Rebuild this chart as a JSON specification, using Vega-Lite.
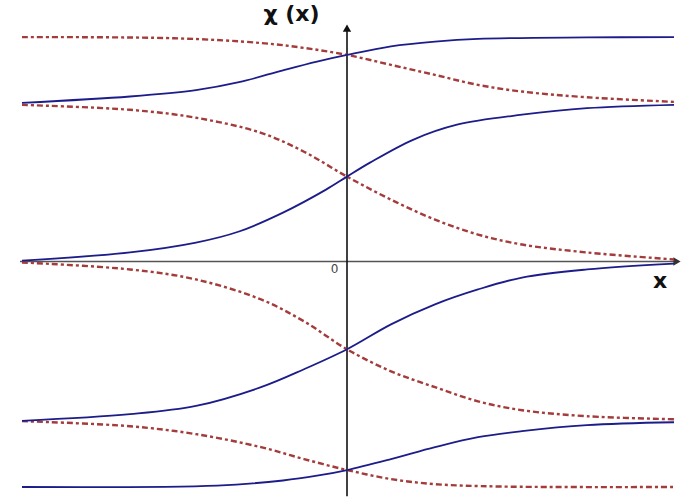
{
  "$schema": "https://vega.github.io/schema/vega-lite/v6.json",
  "autosize": {"type": "fit", "contains": "padding"},
  "width": 682,
  "height": 498,
  "padding": 0,
  "background": "white",
  "config": {"view": {"stroke": null}},
  "datasets": {
    "curves": [
      {"curve": "k1", "kind": "kink", "x": -3.25, "y": 1.0},
      {"curve": "k1", "kind": "kink", "x": -2.17, "y": 1.04},
      {"curve": "k1", "kind": "kink", "x": -1.51, "y": 1.08},
      {"curve": "k1", "kind": "kink", "x": -1.08, "y": 1.13},
      {"curve": "k1", "kind": "kink", "x": -0.64, "y": 1.205},
      {"curve": "k1", "kind": "kink", "x": -0.3, "y": 1.26},
      {"curve": "k1", "kind": "kink", "x": 0.0, "y": 1.302},
      {"curve": "k1", "kind": "kink", "x": 0.44, "y": 1.356},
      {"curve": "k1", "kind": "kink", "x": 0.88, "y": 1.386},
      {"curve": "k1", "kind": "kink", "x": 1.31, "y": 1.403},
      {"curve": "k1", "kind": "kink", "x": 2.4, "y": 1.412},
      {"curve": "k1", "kind": "kink", "x": 3.27, "y": 1.414},

      {"curve": "a1", "kind": "antikink", "x": -3.25, "y": 1.414},
      {"curve": "a1", "kind": "antikink", "x": -1.73, "y": 1.407},
      {"curve": "a1", "kind": "antikink", "x": -0.86, "y": 1.377},
      {"curve": "a1", "kind": "antikink", "x": -0.43, "y": 1.346},
      {"curve": "a1", "kind": "antikink", "x": 0.0, "y": 1.302},
      {"curve": "a1", "kind": "antikink", "x": 0.44, "y": 1.239},
      {"curve": "a1", "kind": "antikink", "x": 0.88, "y": 1.176},
      {"curve": "a1", "kind": "antikink", "x": 1.31, "y": 1.113},
      {"curve": "a1", "kind": "antikink", "x": 1.75, "y": 1.071},
      {"curve": "a1", "kind": "antikink", "x": 2.4, "y": 1.035},
      {"curve": "a1", "kind": "antikink", "x": 3.27, "y": 1.006},

      {"curve": "k2", "kind": "kink", "x": -3.25, "y": 0.006},
      {"curve": "k2", "kind": "kink", "x": -2.17, "y": 0.057},
      {"curve": "k2", "kind": "kink", "x": -1.51, "y": 0.119},
      {"curve": "k2", "kind": "kink", "x": -1.08, "y": 0.189},
      {"curve": "k2", "kind": "kink", "x": -0.64, "y": 0.308},
      {"curve": "k2", "kind": "kink", "x": -0.21, "y": 0.453},
      {"curve": "k2", "kind": "kink", "x": 0.0, "y": 0.535},
      {"curve": "k2", "kind": "kink", "x": 0.23, "y": 0.623},
      {"curve": "k2", "kind": "kink", "x": 0.66, "y": 0.767},
      {"curve": "k2", "kind": "kink", "x": 1.1, "y": 0.862},
      {"curve": "k2", "kind": "kink", "x": 1.75, "y": 0.925},
      {"curve": "k2", "kind": "kink", "x": 2.4, "y": 0.966},
      {"curve": "k2", "kind": "kink", "x": 3.27, "y": 0.987},

      {"curve": "a2", "kind": "antikink", "x": -3.25, "y": 0.987},
      {"curve": "a2", "kind": "antikink", "x": -2.17, "y": 0.956},
      {"curve": "a2", "kind": "antikink", "x": -1.51, "y": 0.906},
      {"curve": "a2", "kind": "antikink", "x": -0.86, "y": 0.811},
      {"curve": "a2", "kind": "antikink", "x": -0.43, "y": 0.692},
      {"curve": "a2", "kind": "antikink", "x": 0.0, "y": 0.535},
      {"curve": "a2", "kind": "antikink", "x": 0.44, "y": 0.39},
      {"curve": "a2", "kind": "antikink", "x": 0.88, "y": 0.264},
      {"curve": "a2", "kind": "antikink", "x": 1.31, "y": 0.17},
      {"curve": "a2", "kind": "antikink", "x": 1.75, "y": 0.107},
      {"curve": "a2", "kind": "antikink", "x": 2.4, "y": 0.057},
      {"curve": "a2", "kind": "antikink", "x": 3.27, "y": 0.013},

      {"curve": "k3", "kind": "kink", "x": -3.25, "y": -1.004},
      {"curve": "k3", "kind": "kink", "x": -2.17, "y": -0.962},
      {"curve": "k3", "kind": "kink", "x": -1.51, "y": -0.91},
      {"curve": "k3", "kind": "kink", "x": -0.86, "y": -0.792},
      {"curve": "k3", "kind": "kink", "x": -0.43, "y": -0.679},
      {"curve": "k3", "kind": "kink", "x": 0.0, "y": -0.553},
      {"curve": "k3", "kind": "kink", "x": 0.44, "y": -0.396},
      {"curve": "k3", "kind": "kink", "x": 0.88, "y": -0.27},
      {"curve": "k3", "kind": "kink", "x": 1.31, "y": -0.176},
      {"curve": "k3", "kind": "kink", "x": 1.75, "y": -0.101},
      {"curve": "k3", "kind": "kink", "x": 2.4, "y": -0.05},
      {"curve": "k3", "kind": "kink", "x": 3.27, "y": -0.013},

      {"curve": "a3", "kind": "antikink", "x": -3.25, "y": -0.006},
      {"curve": "a3", "kind": "antikink", "x": -2.17, "y": -0.05},
      {"curve": "a3", "kind": "antikink", "x": -1.51, "y": -0.113},
      {"curve": "a3", "kind": "antikink", "x": -0.86, "y": -0.239},
      {"curve": "a3", "kind": "antikink", "x": -0.43, "y": -0.377},
      {"curve": "a3", "kind": "antikink", "x": 0.0, "y": -0.553},
      {"curve": "a3", "kind": "antikink", "x": 0.44, "y": -0.692},
      {"curve": "a3", "kind": "antikink", "x": 0.88, "y": -0.792},
      {"curve": "a3", "kind": "antikink", "x": 1.31, "y": -0.881},
      {"curve": "a3", "kind": "antikink", "x": 1.75, "y": -0.937},
      {"curve": "a3", "kind": "antikink", "x": 2.4, "y": -0.975},
      {"curve": "a3", "kind": "antikink", "x": 3.27, "y": -0.994},

      {"curve": "k4", "kind": "kink", "x": -3.25, "y": -1.421},
      {"curve": "k4", "kind": "kink", "x": -1.3, "y": -1.412},
      {"curve": "k4", "kind": "kink", "x": -0.64, "y": -1.38},
      {"curve": "k4", "kind": "kink", "x": -0.3, "y": -1.35},
      {"curve": "k4", "kind": "kink", "x": 0.0, "y": -1.314},
      {"curve": "k4", "kind": "kink", "x": 0.44, "y": -1.245},
      {"curve": "k4", "kind": "kink", "x": 0.88, "y": -1.17},
      {"curve": "k4", "kind": "kink", "x": 1.31, "y": -1.107},
      {"curve": "k4", "kind": "kink", "x": 1.75, "y": -1.069},
      {"curve": "k4", "kind": "kink", "x": 2.4, "y": -1.031},
      {"curve": "k4", "kind": "kink", "x": 3.27, "y": -1.013},

      {"curve": "a4", "kind": "antikink", "x": -3.25, "y": -1.006},
      {"curve": "a4", "kind": "antikink", "x": -2.17, "y": -1.038},
      {"curve": "a4", "kind": "antikink", "x": -1.51, "y": -1.088},
      {"curve": "a4", "kind": "antikink", "x": -0.86, "y": -1.17},
      {"curve": "a4", "kind": "antikink", "x": -0.43, "y": -1.245},
      {"curve": "a4", "kind": "antikink", "x": 0.0, "y": -1.314},
      {"curve": "a4", "kind": "antikink", "x": 0.44, "y": -1.371},
      {"curve": "a4", "kind": "antikink", "x": 0.88, "y": -1.403},
      {"curve": "a4", "kind": "antikink", "x": 1.53, "y": -1.418},
      {"curve": "a4", "kind": "antikink", "x": 3.27, "y": -1.421}
    ],
    "axes": [
      {"name": "xaxis", "x": -3.27, "x2": 3.3, "y": 0, "y2": 0, "color": "#555555"},
      {"name": "yaxis", "x": 0, "x2": 0, "y": -1.48, "y2": 1.47, "color": "#111111"}
    ],
    "arrows": [
      {"name": "xarrow", "x": 3.3, "y": 0, "shape": "triangle-right", "color": "#333333"},
      {"name": "yarrow", "x": 0, "y": 1.47, "shape": "triangle-up", "color": "#111111"}
    ],
    "title": [
      {"text": "χ (x)", "x": -0.555, "y": 1.56}
    ],
    "xlabel": [
      {"text": "x", "x": 3.13, "y": -0.125}
    ],
    "origin": [
      {"text": "0", "x": -0.125, "y": -0.045}
    ]
  },
  "encoding": {
    "x": {"field": "x", "type": "quantitative", "scale": {"domain": [-3.47, 3.35], "nice": false, "zero": false}, "axis": null},
    "y": {"field": "y", "type": "quantitative", "scale": {"domain": [-1.484, 1.648], "nice": false, "zero": false}, "axis": null}
  },
  "layer": [
    {
      "data": {"name": "axes"},
      "mark": {"type": "rule", "strokeWidth": 1.6},
      "encoding": {
        "x2": {"field": "x2"},
        "y2": {"field": "y2"},
        "color": {"field": "color", "type": "nominal", "scale": null}
      }
    },
    {
      "data": {"name": "arrows"},
      "mark": {"type": "point", "filled": true, "size": 70, "opacity": 1},
      "encoding": {
        "shape": {"field": "shape", "type": "nominal", "scale": null},
        "color": {"field": "color", "type": "nominal", "scale": null}
      }
    },
    {
      "data": {"name": "curves"},
      "transform": [{"filter": "datum.kind === 'antikink'"}],
      "mark": {"type": "line", "interpolate": "catmull-rom", "color": "#a33c3a", "strokeWidth": 2.4, "strokeDash": [6, 3, 3, 3]},
      "encoding": {"detail": {"field": "curve", "type": "nominal"}}
    },
    {
      "data": {"name": "curves"},
      "transform": [{"filter": "datum.kind === 'kink'"}],
      "mark": {"type": "line", "interpolate": "catmull-rom", "color": "#1c1c8a", "strokeWidth": 1.8},
      "encoding": {"detail": {"field": "curve", "type": "nominal"}}
    },
    {
      "data": {"name": "title"},
      "mark": {"type": "text", "font": "DejaVu Sans", "fontSize": 22, "fontWeight": "bold", "color": "#111111", "align": "center", "baseline": "middle"},
      "encoding": {"text": {"field": "text"}}
    },
    {
      "data": {"name": "xlabel"},
      "mark": {"type": "text", "font": "DejaVu Sans", "fontSize": 22, "fontWeight": "bold", "color": "#111111", "align": "center", "baseline": "middle"},
      "encoding": {"text": {"field": "text"}}
    },
    {
      "data": {"name": "origin"},
      "mark": {"type": "text", "font": "DejaVu Sans", "fontSize": 12, "color": "#444444", "align": "center", "baseline": "middle"},
      "encoding": {"text": {"field": "text"}}
    }
  ]
}
